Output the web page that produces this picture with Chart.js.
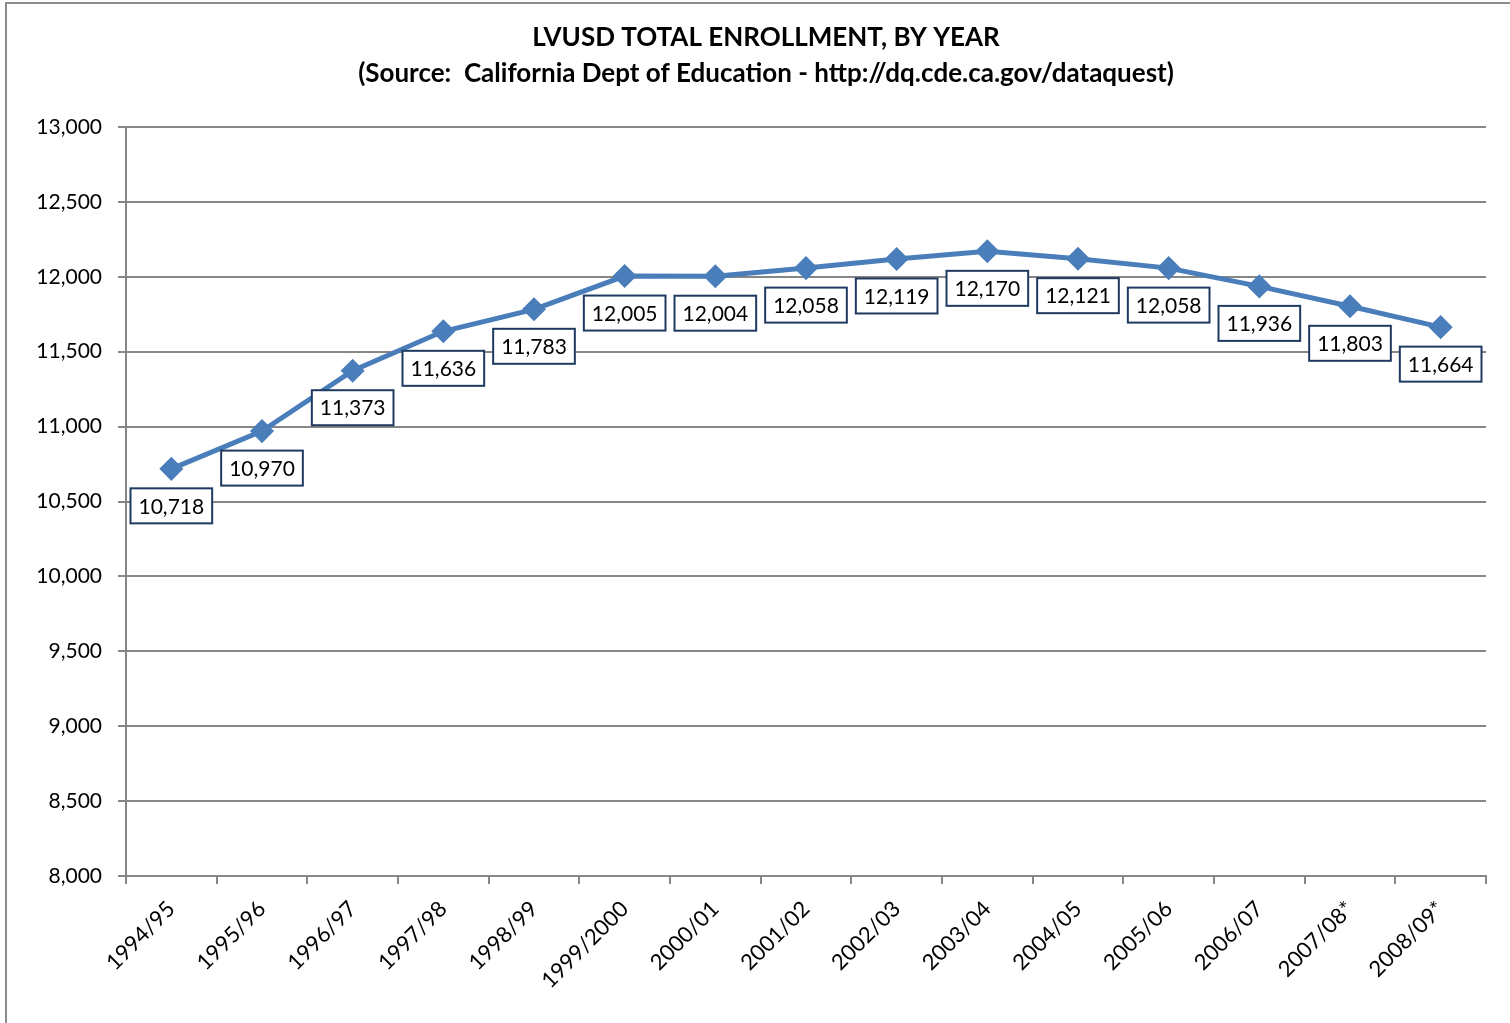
<!doctype html>
<html><head><meta charset="utf-8">
<title>LVUSD Total Enrollment</title>
<script src="https://cdn.jsdelivr.net/npm/chart.js"></script>
<style>
  html, body { margin: 0; padding: 0; background: #fff; }
  #wrap { width: 1510px; height: 1023px; position: relative; }
</style>
</head><body>
<div id="wrap"><canvas id="enroll"></canvas></div>
<script>
const years = ['1994/95', '1995/96', '1996/97', '1997/98', '1998/99', '1999/2000', '2000/01',
  '2001/02', '2002/03', '2003/04', '2004/05', '2005/06', '2006/07', '2007/08*', '2008/09*'];
const enrollment = [10718, 10970, 11373, 11636, 11783, 12005, 12004, 12058, 12119, 12170,
  12121, 12058, 11936, 11803, 11664];
const titleLines = ['LVUSD TOTAL ENROLLMENT, BY YEAR',
  '(Source:  California Dept of Education - http://dq.cde.ca.gov/dataquest)'];

const FONT = 'Lato, "Open Sans", sans-serif';
const gridColor = '#868686';
const lineColor = '#4a7ebb';

// chart frame + two-line title
const frameAndTitle = {
  id: 'frameAndTitle',
  beforeDraw(chart) {
    const c = chart.ctx;
    c.save();
    c.fillStyle = '#fff';
    c.fillRect(0, 0, chart.width, chart.height);
    c.strokeStyle = '#8c8c8c';
    c.lineWidth = 2;
    c.strokeRect(6, 3, chart.width + 10, chart.height + 10);
    c.fillStyle = '#000';
    c.textAlign = 'center';
    c.textBaseline = 'middle';
    c.font = 'bold 26px ' + FONT;
    c.fillText(titleLines[0], 766, 38);
    c.fillText(titleLines[1], 766, 74);
    c.restore();
  }
};

// boxed value labels under each point
const boxLabels = {
  id: 'boxLabels',
  afterDatasetsDraw(chart) {
    const c = chart.ctx;
    const pts = chart.getDatasetMeta(0).data;
    c.save();
    c.font = '21px ' + FONT;
    c.textAlign = 'center';
    c.textBaseline = 'middle';
    pts.forEach((p, i) => {
      const txt = enrollment[i].toLocaleString('en-US');
      const w = c.measureText(txt).width + 16;
      const h = 35;
      const cy = p.y + 37;
      c.fillStyle = '#fff';
      c.fillRect(p.x - w / 2, cy - h / 2, w, h);
      c.strokeStyle = '#1f3a60';
      c.lineWidth = 2;
      c.strokeRect(p.x - w / 2, cy - h / 2, w, h);
      c.fillStyle = '#000';
      c.fillText(txt, p.x, cy + 1);
    });
    c.restore();
  }
};

new Chart(document.getElementById('enroll'), {
  type: 'line',
  data: {
    labels: years,
    datasets: [{
      label: 'Enrollment',
      data: enrollment,
      borderColor: lineColor,
      backgroundColor: lineColor,
      borderWidth: 5,
      pointStyle: 'rectRot',
      pointRadius: 8.5,
      pointHoverRadius: 8.5,
      pointBackgroundColor: lineColor,
      pointBorderColor: lineColor,
      tension: 0
    }]
  },
  options: {
    responsive: true,
    maintainAspectRatio: false,
    animation: false,
    layout: { padding: { left: 8, right: 24, top: 127, bottom: 0 } },
    plugins: { legend: { display: false }, title: { display: false }, tooltip: { enabled: false } },
    scales: {
      x: {
        offset: true,
        grid: { display: true, drawOnChartArea: false, offset: true, color: gridColor, lineWidth: 2, tickLength: 8 },
        border: { color: gridColor, width: 2 },
        ticks: { color: '#000', font: { family: FONT, size: 22 }, minRotation: 45, maxRotation: 45, padding: 12 },
        afterFit(s) { s.height = 147; }
      },
      y: {
        min: 8000, max: 13000,
        grid: { color: gridColor, lineWidth: 2, tickLength: 8 },
        border: { color: gridColor, width: 2 },
        ticks: {
          stepSize: 500, color: '#000', font: { family: FONT, size: 21 }, padding: 16,
          callback: v => v.toLocaleString('en-US')
        },
        afterFit(s) { s.width = 118; }
      }
    }
  },
  plugins: [frameAndTitle, boxLabels]
});
</script>
</body></html>
